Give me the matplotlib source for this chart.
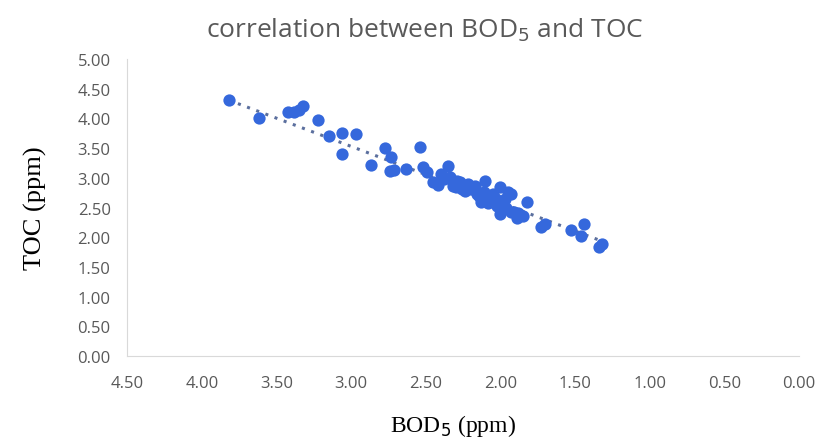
import numpy as np
import matplotlib.pyplot as plt

# BOD5 (ppm) and TOC (ppm)
bod5 = [3.82, 3.62, 3.42, 3.38, 3.35, 3.32, 3.22, 3.15, 3.06, 2.97,
        3.06, 2.77, 2.73, 2.87, 2.74, 2.71, 2.63, 2.54, 2.52, 2.49,
        2.45, 2.38, 2.35, 2.32, 2.29, 2.26, 2.22, 2.20, 2.16, 2.11,
        2.13, 2.07, 2.00, 2.02, 1.95, 1.98, 1.91, 1.85, 1.82, 1.89,
        1.73, 1.70, 1.53, 1.44, 1.46, 1.32, 1.34, 2.40, 2.34, 2.27,
        2.17, 2.10, 2.05, 1.97, 1.93, 2.03, 1.93, 2.00, 2.42, 2.30,
        2.24, 2.14, 2.08, 1.96, 1.88]
toc = [4.31, 4.01, 4.11, 4.11, 4.14, 4.21, 3.97, 3.70, 3.75, 3.74,
       3.40, 3.50, 3.35, 3.22, 3.11, 3.13, 3.15, 3.52, 3.18, 3.10,
       2.93, 2.98, 3.20, 2.86, 2.95, 2.81, 2.90, 2.81, 2.73, 2.76,
       2.59, 2.64, 2.85, 2.53, 2.76, 2.47, 2.42, 2.36, 2.59, 2.32,
       2.17, 2.22, 2.12, 2.22, 2.02, 1.89, 1.84, 3.06, 3.01, 2.93,
       2.86, 2.95, 2.73, 2.64, 2.73, 2.64, 2.42, 2.39, 2.88, 2.84,
       2.78, 2.70, 2.58, 2.50, 2.40]

# linear trendline as drawn in the picture
trend_slope = 0.95
trend_intercept = 0.68

x_ticks = [4.5, 4.0, 3.5, 3.0, 2.5, 2.0, 1.5, 1.0, 0.5, 0.0]
y_ticks = [0.0, 0.5, 1.0, 1.5, 2.0, 2.5, 3.0, 3.5, 4.0, 4.5, 5.0]

fig = plt.figure(figsize=(8.16, 4.39), dpi=100)
ax = fig.add_axes([0.156, 0.187, 0.823, 0.676])

ax.scatter(bod5, toc, s=78, color='#3568dc', zorder=3, linewidths=0)

xs = np.array([max(bod5), min(bod5)])
ax.plot(xs, trend_slope * xs + trend_intercept, linestyle=(0, (1, 2.2)),
        linewidth=2.2, color='#5b6f9e', zorder=2)

ax.set_xlim(4.5, 0.0)
ax.set_ylim(0, 5)
ax.set_xticks(x_ticks)
ax.set_yticks(y_ticks)
ax.set_xticklabels([f"{v:.2f}" for v in x_ticks])
ax.set_yticklabels([f"{v:.2f}" for v in y_ticks])
ax.tick_params(length=0, labelsize=12, colors='#595959')
ax.tick_params(axis='x', pad=14)
ax.tick_params(axis='y', pad=12)
for lab in ax.get_xticklabels() + ax.get_yticklabels():
    lab.set_family('Open Sans')

for side in ['top', 'right']:
    ax.spines[side].set_visible(False)
for side in ['left', 'bottom']:
    ax.spines[side].set_color('#d9d9d9')

fig.text(0.52, 0.93, "correlation between BOD$_5$ and TOC", ha='center',
         va='center', fontsize=19, color='#595959', family='Open Sans')
fig.text(0.555, 0.03, "BOD$_5$ (ppm)", ha='center', va='center',
         fontsize=17, family='Liberation Serif')
ax.set_ylabel("TOC (ppm)", fontsize=19, family='Liberation Serif',
              labelpad=22)

plt.savefig("out.png", dpi=100)
